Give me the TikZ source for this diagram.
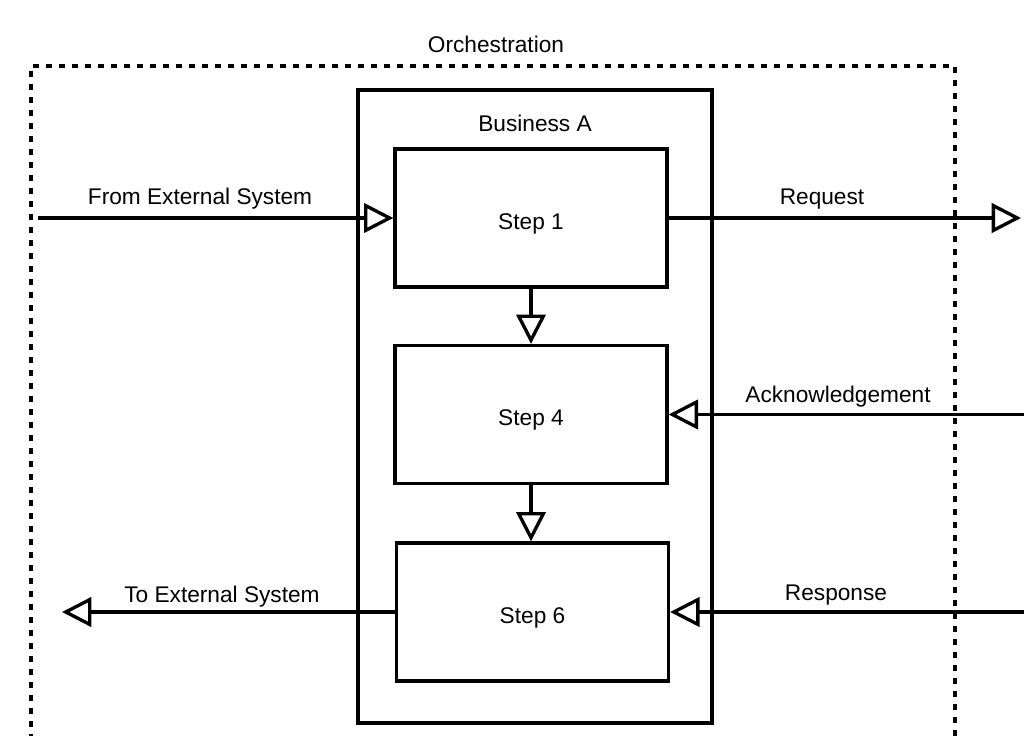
\documentclass[tikz,border=0pt]{standalone}
\usepackage{fontspec}
\setmainfont{Liberation Sans}
\usetikzlibrary{arrows.meta}
\begin{document}
\begin{tikzpicture}[x=0.75pt,y=-0.75pt,
  txt/.style={font=\fontsize{17}{20}\selectfont},
  stepbox/.style={draw,line width=2.5pt,minimum width=204pt,minimum height=103.5pt,inner sep=0pt,txt,text height=16.5pt,text depth=0pt},
  lbl/.style={txt,inner sep=0pt,anchor=base},
  flow/.style={line width=2.5pt,-{Triangle[open,length=22pt,width=22pt,line width=2.5pt]}},
  orch/.style={line width=2.5pt,dash pattern=on 4.5pt off 5.25pt}]
\useasboundingbox (0,0) rectangle (1024,735);
% orchestration (open bottom)
\draw[orch] (31,740) -- (31,66) -- (955,66) -- (955,740);
\node[lbl] (orchlbl) at (496,53) {Orchestration};
% business box
\node[draw,line width=2.5pt,minimum width=265.5pt,minimum height=474.75pt,inner sep=0pt] (biz) at (535,406.5) {};
\node[lbl] (bizlbl) at (535,131) {Business A};
% steps
\node[stepbox] (s1) at (531,218) {Step 1};
\node[stepbox] (s4) at (531,414.5) {Step 4};
\node[stepbox] (s6) at (532.5,612) {Step 6};
% external points
\coordinate (fromext) at (38,218);
\coordinate (reqend) at (1021,218);
\coordinate (ackstart) at (1024,414.5);
\coordinate (respstart) at (1024,612);
\coordinate (toext) at (62,612);
% connectors
\draw[flow] (fromext) -- (s1.west);
\draw[flow] (s1.east) -- (reqend);
\draw[flow] (ackstart) -- (s4.east);
\draw[flow] (respstart) -- (s6.east);
\draw[flow] (s6.west) -- (toext);
\draw[flow] (s1.south) -- (s4.north);
\draw[flow] (s4.south) -- (s4.south |- s6.north);
% labels
\node[lbl] (l1) at (200,204) {From External System};
\node[lbl] (l2) at (822,204) {Request};
\node[lbl] (l3) at (838,402) {Acknowledgement};
\node[lbl] (l4) at (836,600) {Response};
\node[lbl] (l5) at (222,602.5) {To External System};
\end{tikzpicture}
\end{document}
